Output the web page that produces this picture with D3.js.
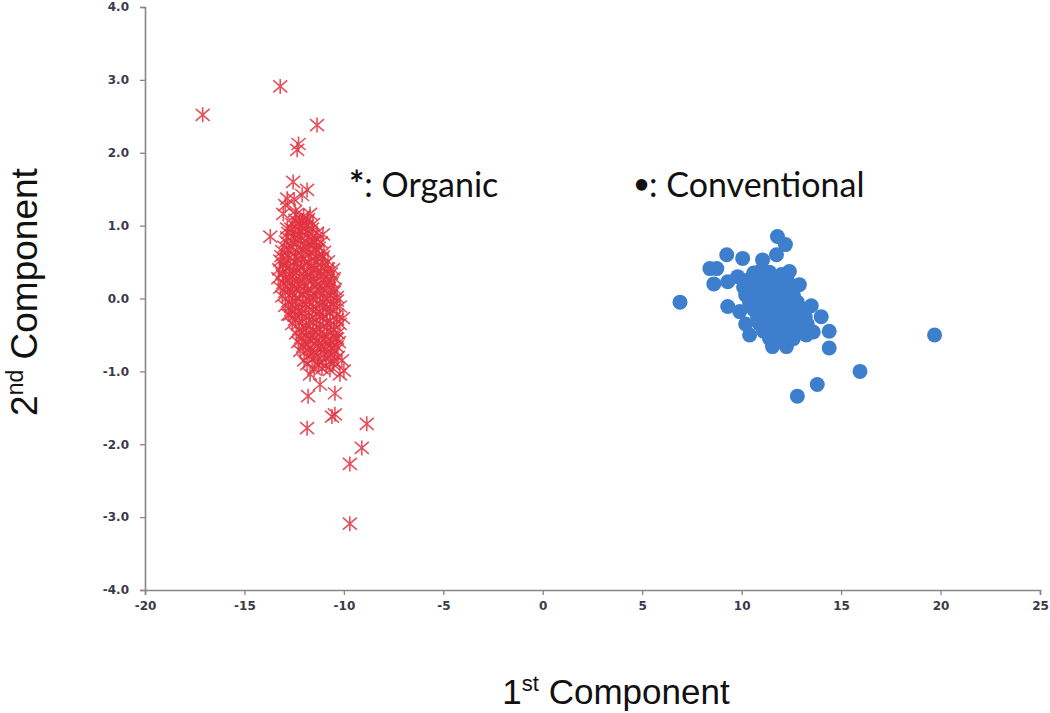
<!DOCTYPE html>
<html>
<head>
<meta charset="utf-8">
<script src="https://cdn.jsdelivr.net/npm/d3@7"></script>
<style>
  html, body { margin: 0; padding: 0; background: #fff; }
  svg { display: block; }
</style>
</head>
<body>
<svg id="chart" width="1050" height="713"></svg>
<script>
// ── Data ─────────────────────────────────────────────────

const xTicks = [-20, -15, -10, -5, 0, 5, 10, 15, 20, 25];
const yTicks = [-4, -3, -2, -1, 0, 1, 2, 3, 4];

// Organic samples, drawn as "*"
const organicPts = [
  // sparse upper points
  [-17.1, 2.52], [-13.2, 2.91], [-11.35, 2.38], [-12.35, 2.04], [-12.28, 2.12],
  [-12.55, 1.6], [-11.85, 1.49], [-12.85, 1.37], [-12.95, 1.28], [-12.5, 1.36],
  [-12.1, 1.42], [-13.7, 0.85], [-12.85, 0.96], [-11.85, 1.06], [-11.05, 0.88],
  [-10.55, 0.4], [-12.45, 1.2], [-13.05, 1.16], [-12.2, 1.0], [-11.45, 0.78],
  // dense core
  [-12.4, 1.15], [-12.02, 1.13], [-11.7, 1.16],
  [-12.45, 1.08], [-12.1, 1.07], [-11.8, 1.09],
  [-12.6, 1.02], [-12.25, 1.03], [-11.9, 1.0], [-11.55, 1.02],
  [-12.65, 0.96], [-12.3, 0.95], [-11.95, 0.97], [-11.6, 0.96],
  [-12.8, 0.9], [-12.45, 0.88], [-12.1, 0.91], [-11.75, 0.89], [-11.35, 0.9],
  [-12.85, 0.84], [-12.5, 0.83], [-12.15, 0.85], [-11.8, 0.84], [-11.4, 0.83],
  [-12.9, 0.78], [-12.55, 0.77], [-12.2, 0.8], [-11.85, 0.76], [-11.5, 0.79], [-11.15, 0.77],
  [-13.0, 0.71], [-12.65, 0.72], [-12.3, 0.7], [-11.95, 0.71], [-11.6, 0.73], [-11.25, 0.7],
  [-13.1, 0.65], [-12.75, 0.66], [-12.4, 0.64], [-12.05, 0.67], [-11.7, 0.63], [-11.35, 0.66], [-11.0, 0.64],
  [-13.15, 0.58], [-12.8, 0.59], [-12.45, 0.57], [-12.1, 0.58], [-11.75, 0.6], [-11.4, 0.57], [-11.05, 0.58],
  [-13.2, 0.52], [-12.85, 0.53], [-12.5, 0.51], [-12.15, 0.54], [-11.8, 0.5], [-11.45, 0.52], [-11.1, 0.55], [-10.8, 0.51],
  [-13.05, 0.46], [-12.7, 0.45], [-12.35, 0.47], [-12.0, 0.46], [-11.65, 0.44], [-11.3, 0.46], [-10.95, 0.47],
  [-13.25, 0.4], [-12.9, 0.41], [-12.55, 0.38], [-12.2, 0.42], [-11.85, 0.39], [-11.5, 0.4], [-11.15, 0.37], [-10.8, 0.41],
  [-13.1, 0.34], [-12.75, 0.33], [-12.4, 0.35], [-12.05, 0.34], [-11.7, 0.32], [-11.35, 0.35], [-11.0, 0.33], [-10.65, 0.34],
  [-13.3, 0.28], [-12.95, 0.27], [-12.6, 0.3], [-12.25, 0.26], [-11.9, 0.29], [-11.55, 0.27], [-11.2, 0.3], [-10.85, 0.26], [-10.5, 0.28],
  [-13.05, 0.21], [-12.7, 0.22], [-12.35, 0.2], [-12.0, 0.21], [-11.65, 0.23], [-11.3, 0.2], [-10.95, 0.21], [-10.6, 0.22],
  [-13.2, 0.15], [-12.85, 0.16], [-12.5, 0.14], [-12.15, 0.17], [-11.8, 0.13], [-11.45, 0.16], [-11.1, 0.14], [-10.75, 0.15], [-10.45, 0.13],
  [-12.95, 0.09], [-12.6, 0.08], [-12.25, 0.1], [-11.9, 0.09], [-11.55, 0.07], [-11.2, 0.1], [-10.85, 0.08], [-10.5, 0.09],
  [-13.1, 0.03], [-12.75, 0.04], [-12.4, 0.01], [-12.05, 0.05], [-11.7, 0.02], [-11.35, 0.03], [-11.0, 0.01], [-10.65, 0.04], [-10.35, 0.02],
  [-12.8, -0.04], [-12.45, -0.03], [-12.1, -0.05], [-11.75, -0.04], [-11.4, -0.02], [-11.05, -0.05], [-10.7, -0.04], [-10.35, -0.03],
  [-12.95, -0.1], [-12.6, -0.09], [-12.25, -0.12], [-11.9, -0.08], [-11.55, -0.11], [-11.2, -0.1], [-10.85, -0.12], [-10.5, -0.09], [-10.2, -0.11],
  [-12.65, -0.16], [-12.3, -0.17], [-11.95, -0.15], [-11.6, -0.16], [-11.25, -0.18], [-10.9, -0.15], [-10.55, -0.16],
  [-12.8, -0.22], [-12.45, -0.23], [-12.1, -0.2], [-11.75, -0.24], [-11.4, -0.21], [-11.05, -0.23], [-10.7, -0.2], [-10.35, -0.22],
  [-12.45, -0.29], [-12.1, -0.28], [-11.75, -0.3], [-11.4, -0.29], [-11.05, -0.27], [-10.7, -0.3], [-10.35, -0.29],
  [-12.6, -0.35], [-12.25, -0.34], [-11.9, -0.37], [-11.55, -0.33], [-11.2, -0.36], [-10.85, -0.34], [-10.5, -0.36], [-10.2, -0.35],
  [-12.25, -0.42], [-11.9, -0.41], [-11.55, -0.43], [-11.2, -0.42], [-10.85, -0.4], [-10.5, -0.43],
  [-12.4, -0.48], [-12.05, -0.47], [-11.7, -0.5], [-11.35, -0.46], [-11.0, -0.49], [-10.65, -0.47], [-10.3, -0.48],
  [-12.15, -0.54], [-11.8, -0.55], [-11.45, -0.53], [-11.1, -0.54], [-10.75, -0.56], [-10.4, -0.54],
  [-12.3, -0.6], [-11.95, -0.61], [-11.6, -0.58], [-11.25, -0.62], [-10.9, -0.59], [-10.55, -0.61], [-10.25, -0.6],
  [-12.05, -0.66], [-11.7, -0.67], [-11.35, -0.65], [-11.0, -0.66], [-10.65, -0.68], [-10.35, -0.66],
  [-12.2, -0.72], [-11.85, -0.71], [-11.5, -0.74], [-11.15, -0.7], [-10.8, -0.73], [-10.45, -0.72],
  [-11.75, -0.78], [-11.35, -0.79], [-11.0, -0.77], [-10.65, -0.78], [-10.3, -0.8],
  [-12.0, -0.85], [-11.6, -0.84], [-11.25, -0.87], [-10.9, -0.83], [-10.5, -0.86], [-10.1, -0.85],
  [-11.3, -0.91], [-10.9, -0.92], [-10.55, -0.9],
  [-11.5, -0.97], [-11.1, -0.96], [-10.7, -0.98], [-10.0, -0.99],
  // sparse lower points
  [-10.05, -0.27], [-10.35, -0.55], [-12.7, -0.22], [-11.85, -0.9], [-10.2, -1.04],
  [-11.7, -1.04], [-11.2, -1.18], [-11.8, -1.34], [-10.45, -1.3], [-10.45, -1.59],
  [-10.6, -1.62], [-11.85, -1.78], [-8.85, -1.72], [-9.1, -2.05], [-9.7, -2.27],
  [-9.7, -3.09]
];

// Conventional samples, drawn as filled dots
const conventionalPts = [
  // outliers and rim
  [6.9, -0.05], [19.7, -0.5], [15.95, -1.0], [13.8, -1.18], [12.8, -1.34],
  [14.4, -0.68], [14.4, -0.45], [14.0, -0.25], [11.8, 0.85], [12.2, 0.74],
  [11.75, 0.6], [9.25, 0.6], [8.4, 0.41], [8.75, 0.41], [8.6, 0.2],
  [9.3, 0.23], [10.05, 0.55], [9.3, -0.11], [9.9, -0.18], [11.05, 0.53],
  [10.9, 0.37], [10.4, -0.5], [11.55, -0.66], [12.25, -0.66], [13.25, -0.5],
  [12.9, 0.19], [12.4, 0.37], [9.8, 0.3], [10.2, -0.35], [13.5, -0.1],
  // dense core
  [10.6, 0.35], [11.0, 0.34], [11.4, 0.36], [12.0, 0.33],
  [10.3, 0.25], [10.7, 0.26], [11.1, 0.24], [11.5, 0.25], [11.9, 0.27], [12.3, 0.24],
  [10.1, 0.15], [10.5, 0.14], [10.9, 0.16], [11.3, 0.15], [11.7, 0.13], [12.1, 0.16], [12.5, 0.14],
  [10.2, 0.05], [10.6, 0.06], [11.0, 0.04], [11.4, 0.05], [11.8, 0.03], [12.2, 0.06], [12.6, 0.04],
  [10.4, -0.05], [10.8, -0.04], [11.2, -0.06], [11.6, -0.05], [12.0, -0.03], [12.4, -0.06], [12.8, -0.05],
  [10.6, -0.15], [11.0, -0.16], [11.4, -0.14], [11.8, -0.15], [12.2, -0.17], [12.6, -0.14], [13.0, -0.15],
  [10.8, -0.25], [11.2, -0.24], [11.6, -0.26], [12.0, -0.25], [12.4, -0.23], [12.8, -0.26], [13.2, -0.25],
  [10.9, -0.35], [11.3, -0.36], [11.7, -0.34], [12.1, -0.35], [12.5, -0.37], [12.9, -0.34], [13.3, -0.35],
  [11.1, -0.45], [11.5, -0.44], [11.9, -0.46], [12.3, -0.45], [12.7, -0.43], [13.6, -0.46],
  [11.4, -0.55], [11.8, -0.56], [12.2, -0.54], [12.6, -0.55]
];

const legendItems = [
  { mark: '*', text: ': Organic', x: 349, markSize: 36, lift: 0 },
  { mark: '\u2022', text: ': Conventional', x: 634, markSize: 26, lift: 4 }
];

// ── Setup ───────────────────────────────────────────────

const svg = d3.select('#chart');

const x = d3.scaleLinear().domain([-20, 25]).range([145, 1040]);
const y = d3.scaleLinear().domain([-4, 4]).range([590, 7]);

const axisColor = '#868686';
const labelColor = '#3a3a4a';

// Y axis
const yAxis = svg.append('g')
  .attr('transform', `translate(${x(-20)},0)`)
  .call(d3.axisLeft(y)
    .tickValues(yTicks)
    .tickSize(5)
    .tickPadding(11)
    .tickFormat(d => d.toFixed(1)));

// X axis
const xAxis = svg.append('g')
  .attr('transform', `translate(0,${y(-4)})`)
  .call(d3.axisBottom(x)
    .tickValues(xTicks)
    .tickSize(5)
    .tickPadding(6)
    .tickFormat(d => String(d)));

[yAxis, xAxis].forEach(a => {
  a.select('.domain').attr('stroke', axisColor).attr('stroke-width', 1.6);
  a.selectAll('.tick line').attr('stroke', axisColor).attr('stroke-width', 1.3);
  a.selectAll('.tick text')
    .attr('fill', labelColor)
    .attr('font-family', '"DejaVu Sans", Verdana, sans-serif')
    .attr('font-weight', 'bold')
    .attr('font-size', '12px');
});

// ── Marks ───────────────────────────────────────────────

const starPath = 'M-7,-6L7,6M-7,6L7,-6M0,-7.5L0,7.5';

svg.append('g').attr('class', 'organic')
  .selectAll('path')
  .data(organicPts)
  .join('path')
  .attr('d', starPath)
  .attr('transform', d => `translate(${x(d[0])},${y(d[1])})`)
  .attr('fill', 'none')
  .attr('stroke', '#e2313f')
  .attr('stroke-width', 1.6)
  .attr('stroke-opacity', 0.85);

svg.append('g').attr('class', 'conventional')
  .selectAll('circle')
  .data(conventionalPts)
  .join('circle')
  .attr('cx', d => x(d[0]))
  .attr('cy', d => y(d[1]))
  .attr('r', 7.5)
  .attr('fill', '#3d7fcd');

// ── Labels ──────────────────────────────────────────────

const legend = svg.append('g').attr('class', 'legend')
  .selectAll('text')
  .data(legendItems)
  .join('text')
  .attr('x', d => d.x)
  .attr('y', 197)
  .attr('font-family', 'Lato, "Open Sans", sans-serif')
  .attr('font-size', '34px')
  .attr('fill', '#111');
legend.append('tspan')
  .attr('font-weight', 'bold')
  .attr('font-size', d => d.markSize + 'px')
  .attr('dy', d => -d.lift)
  .text(d => d.mark);
legend.append('tspan')
  .attr('dy', d => d.lift)
  .text(d => d.text);

// Axis titles with superscripts
const titleFont = '"Liberation Sans", Arial, sans-serif';

const xt = svg.append('text')
  .attr('x', 616)
  .attr('y', 704)
  .attr('text-anchor', 'middle')
  .attr('font-family', titleFont)
  .attr('font-size', '35px')
  .attr('fill', '#111');
xt.append('tspan').text('1');
xt.append('tspan').attr('font-size', '22px').attr('dy', -13).text('st');
xt.append('tspan').attr('dy', 13).text(' Component');

const yt = svg.append('text')
  .attr('transform', 'translate(37,292) rotate(-90)')
  .attr('text-anchor', 'middle')
  .attr('font-family', titleFont)
  .attr('font-size', '37px')
  .attr('fill', '#111');
yt.append('tspan').text('2');
yt.append('tspan').attr('font-size', '23px').attr('dy', -14).text('nd');
yt.append('tspan').attr('dy', 14).text(' Component');
</script>
</body>
</html>
